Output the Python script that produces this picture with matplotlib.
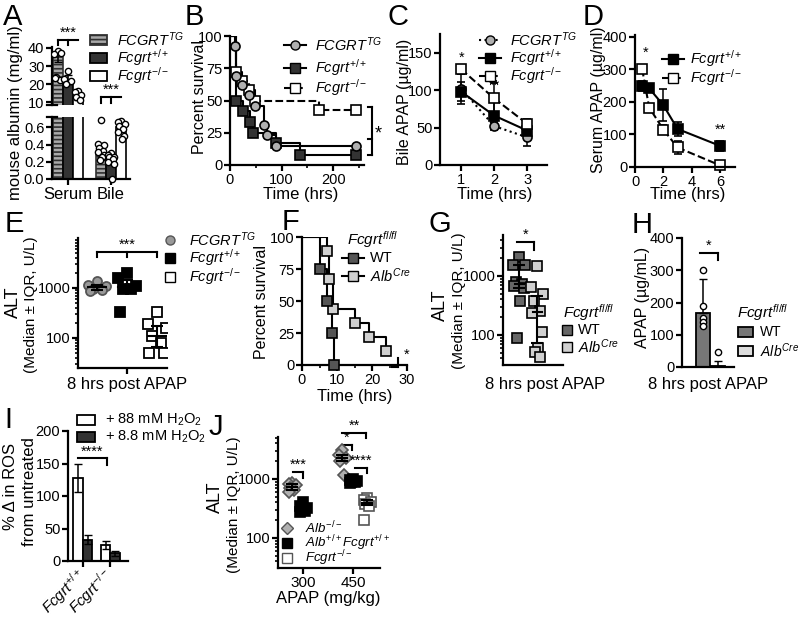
import numpy as np
import matplotlib.pyplot as plt
from matplotlib.lines import Line2D
from matplotlib.patches import Rectangle
from matplotlib.ticker import NullFormatter

plt.rcParams['font.family'] = ['Liberation Sans', 'DejaVu Sans']
plt.rcParams['mathtext.fontset'] = 'custom'
plt.rcParams['mathtext.rm'] = 'Liberation Sans'
plt.rcParams['mathtext.it'] = 'Liberation Sans:italic'
plt.rcParams['mathtext.bf'] = 'Liberation Sans:bold'
plt.rcParams['axes.linewidth'] = 1.6
plt.rcParams['xtick.major.width'] = 1.6
plt.rcParams['ytick.major.width'] = 1.6
plt.rcParams['xtick.minor.width'] = 1.2
plt.rcParams['ytick.minor.width'] = 1.2
plt.rcParams['xtick.major.size'] = 4
plt.rcParams['ytick.major.size'] = 4
plt.rcParams['xtick.minor.size'] = 2.5
plt.rcParams['ytick.minor.size'] = 2.5
plt.rcParams['xtick.labelsize'] = 10.5
plt.rcParams['ytick.labelsize'] = 10.5
plt.rcParams['xtick.major.pad'] = 1.5
plt.rcParams['ytick.major.pad'] = 1.5
plt.rcParams['hatch.linewidth'] = 1.2

# ---------------- data ----------------
geno3 = [r'$FCGRT^{TG}$', r'$Fcgrt^{+/+}$', r'$Fcgrt^{-/-}$']

# A: mouse albumin
alb_groups = ['Serum', 'Bile']
alb_serum = [35, 22.5, 12.5]
alb_serum_sd = [2.5, 2.5, 1.5]
alb_bile = [0.30, 0.22, 0.60]
alb_bile_sd = [0.04, 0.03, 0.03]
alb_serum_pts = [[38.5, 36.5, 37, 24, 22.5, 23.5], [27, 23, 22, 20], [16.5, 15.5, 14, 13, 11]]
alb_bile_pts = [[0.68, 0.41, 0.39, 0.36, 0.33, 0.31, 0.28, 0.25, 0.22],
                [0.30, 0.28, 0.26, 0.25, 0.23, 0.20, 0.18, 0.0],
                [0.67, 0.66, 0.64, 0.62, 0.58, 0.55, 0.50, 0.46]]

# B: survival
km_tg_t = [0, 10, 12, 24, 36, 48, 65, 72, 90, 245]
km_tg_s = [100, 92, 69, 62, 54, 46, 31, 23, 15, 15]
km_wt_t = [0, 12, 25, 38, 45, 90, 135, 245]
km_wt_s = [100, 50, 42, 33, 25, 17, 8, 8]
km_ko_t = [0, 12, 24, 36, 48, 172, 245]
km_ko_s = [100, 72, 65, 58, 50, 43, 43]

# C: bile APAP
c_time = [1, 2, 3]
c_tg = [102, 52, 37]
c_tg_sd = [20, 5, 12]
c_wt = [98, 66, 46]
c_wt_sd = [13, 18, 8]
c_ko = [128, 89, 55]
c_ko_sd = [6, 20, 6]

# D: serum APAP
d_time = [0.5, 1, 2, 3, 6]
d_wt = [250, 242, 190, 117, 65]
d_wt_sd = [15, 8, 50, 22, 15]
d_ko = [302, 183, 115, 60, 5]
d_ko_sd = [12, 8, 15, 20, 4]

# E: ALT
e_tg = [1350, 1150, 1100, 950, 900, 880]
e_wt = [2000, 1600, 1100, 950, 950, 330]
e_ko = [330, 190, 160, 110, 80, 50, 50]

# F: survival
f_wt_t = [0, 5, 7, 8.5, 9.2]
f_wt_s = [100, 75, 50, 25, 0]
f_alb_t = [0, 7, 7.7, 8.8, 15, 19, 24]
f_alb_s = [100, 89, 67, 44, 33, 22, 11]

# G: ALT
g_wt = [2100, 1550, 1550, 800, 720, 680, 620, 370, 90]
g_alb = [1480, 660, 490, 380, 260, 240, 113, 61, 52, 43]

# H: APAP
h_mean = [168, 3]
h_sd = [105, 15]
h_pts = [[300, 188, 152, 138, 128], [45]]

# I: ROS
i_groups = [r'$Fcgrt^{+/+}$', r'$Fcgrt^{-/-}$']
i_88 = [128, 25]
i_88_sd = [22, 6]
i_8 = [33, 12]
i_8_sd = [7, 4]

# J: ALT by dose
j_doses = ['300', '450']
j_alb_ko = [[850, 820, 780, 700, 650, 600], [3100, 2600, 2300, 2000, 1150]]
j_wt = [[410, 350, 320, 300, 290, 280], [1000, 950, 920, 900, 880, 870]]
j_fc_ko = [[], [480, 440, 410, 380, 350, 200]]

# ---------------- helpers ----------------
W, H = 800, 620
fig = plt.figure(figsize=(8, 6.2), dpi=100)
LEG_FS = 10.5


def px_axes(x0, y0, x1, y1):
    ax = fig.add_axes([x0 / W, 1 - y1 / H, (x1 - x0) / W, (y1 - y0) / H])
    ax.spines['top'].set_visible(False)
    ax.spines['right'].set_visible(False)
    ax.patch.set_alpha(0)
    return ax


def ftext(x, y, s, **kw):
    kw.setdefault('ha', 'center')
    kw.setdefault('va', 'center')
    kw.setdefault('fontsize', 12)
    fig.text(x / W, 1 - y / H, s, **kw)


def spread(n, w):
    pattern = np.array([0, -1, 1, -0.5, 0.5, -0.8, 0.8, 0.2, -0.3, 0.4])
    return pattern[np.arange(n) % 10] * w


def bracket(ax, x0, x1, y, drops, y_drop, text):
    ax.plot([x0, x1], [y, y], color='k', lw=1.5, clip_on=False)
    for d in drops:
        ax.plot([d, d], [y, y_drop], color='k', lw=1.5, clip_on=False)
    ax.annotate(text, xy=((x0 + x1) / 2, y), xytext=(0, 0), textcoords='offset points',
                ha='center', va='bottom', fontsize=10.5, annotation_clip=False)


def leg_marker(x, y, text, marker, fc, ec='k', ms=6.5, ls=None, tx=None, fs=LEG_FS):
    if ls:
        fig.add_artist(Line2D([(x - 11) / W, (x + 11) / W], [1 - y / H] * 2,
                              transform=fig.transFigure, color='k', ls=ls, lw=1.5))
    fig.add_artist(Line2D([x / W], [1 - y / H], transform=fig.transFigure, marker=marker,
                          mfc=fc, mec=ec, ms=ms, ls='none'))
    fig.text(tx / W, 1 - y / H, text, ha='left', va='center', fontsize=fs)


def leg_patch(x0, x1, y, text, fc, tx, hatch=None, ec='k', fs=LEG_FS):
    fig.add_artist(Rectangle((x0 / W, 1 - (y + 5) / H), (x1 - x0) / W, 10 / H,
                             transform=fig.transFigure, facecolor=fc, edgecolor=ec,
                             lw=1.3, hatch=hatch))
    fig.text(tx / W, 1 - y / H, text, ha='left', va='center', fontsize=fs)


def median_iqr(ax, x, vals, half=0.3):
    med = np.median(vals)
    q1, q3 = np.percentile(vals, [25, 75])
    ax.plot([x - half, x + half], [med, med], color='k', lw=1.5, zorder=5)
    ax.errorbar(x, med, yerr=[[med - q1], [q3 - med]], color='k', lw=1.5,
                capsize=4, capthick=1.5, zorder=5)


def log_ticks(ax, ticks):
    ax.set_yticks(ticks)
    ax.set_yticklabels([str(t) for t in ticks])
    ax.yaxis.set_minor_formatter(NullFormatter())


# ---------------- A ----------------
axA1 = px_axes(52, 47, 130, 105)
axA2 = px_axes(52, 117, 130, 179)
offA = [-0.233, 0, 0.233]
bwA = 0.233
styleA = [dict(color='#a8a8a8', edgecolor='#303030', hatch='----'),
          dict(color='#333333', edgecolor='k'),
          dict(color='white', edgecolor='k')]
for i in range(3):
    for ax in (axA1, axA2):
        ax.bar(offA[i], alb_serum[i], bwA, lw=1.2, zorder=2, **styleA[i])
    axA2.bar(1 + offA[i], alb_bile[i], bwA, lw=1.2, zorder=2, **styleA[i])
    axA1.errorbar(offA[i], alb_serum[i], yerr=alb_serum_sd[i], color='k', capsize=3, lw=1.2, zorder=3)
    axA2.errorbar(1 + offA[i], alb_bile[i], yerr=alb_bile_sd[i], color='k', capsize=3, lw=1.2, zorder=3)
    axA1.plot(offA[i] + spread(len(alb_serum_pts[i]), 0.08), alb_serum_pts[i], 'o', ms=4.5,
              mfc='white', mec='k', mew=1, zorder=4)
    axA2.plot(1 + offA[i] + spread(len(alb_bile_pts[i]), 0.08), alb_bile_pts[i], 'o', ms=4.5,
              mfc='white', mec='k', mew=1, zorder=4, clip_on=False)
for ax in (axA1, axA2):
    ax.set_xlim(-0.37, 1.44)
axA1.set_ylim(8.5, 40.5)
axA1.set_yticks([10, 20, 30, 40])
axA1.spines['bottom'].set_visible(False)
axA1.set_xticks([])
axA1.plot([-0.06, 0.06], [0, 0], transform=axA1.transAxes, color='k', lw=1.6, clip_on=False)
axA2.set_ylim(0, 0.72)
axA2.set_yticks([0, 0.2, 0.4, 0.6])
axA2.set_yticklabels(['0.0', '0.2', '0.4', '0.6'])
axA2.set_xticks([0, 1])
axA2.set_xticklabels(alb_groups, fontsize=12)
axA2.plot([-0.06, 0.06], [1, 1], transform=axA2.transAxes, color='k', lw=1.6, clip_on=False)
bracket(axA1, -0.233, 0.233, 44.4, [-0.233, 0], 41.5, '***')
bracket(axA1, 0.767, 1.233, 12.9, [0.767, 1.0], 9.8, '***')
ftext(16, 113, 'mouse albumin (mg/ml)', rotation=90)
for i, y in enumerate([40, 58, 76]):
    leg_patch(90, 107, y, geno3[i], styleA[i]['color'], 117, hatch=styleA[i].get('hatch'),
              ec=styleA[i]['edgecolor'])

# ---------------- B ----------------
axB = px_axes(230, 36, 364, 165)
km_styles = [(km_ko_t, km_ko_s, 's', 'white', '--'),
             (km_wt_t, km_wt_s, 's', '#333333', '-'),
             (km_tg_t, km_tg_s, 'o', '#b0b0b0', '-')]
for t, s, m, fc, ls in km_styles:
    axB.step(t, s, where='post', color='k', lw=1.5, ls=ls, zorder=2)
    axB.plot(t[1:], s[1:], m, ms=6.5, mfc=fc, mec='k', mew=1.2, ls='none', zorder=3, clip_on=False)
axB.set_xlim(0, 260)
axB.set_ylim(0, 100)
axB.set_xticks([0, 100, 200])
axB.set_xticks([50, 150, 250], minor=True)
axB.set_yticks([0, 25, 50, 75, 100])
axB.plot([276, 276], [45, 8], color='k', lw=1.5, clip_on=False)
for yy in [45, 20, 8]:
    axB.plot([267, 276], [yy, yy], color='k', lw=1.5, clip_on=False)
axB.text(288, 24, '*', ha='center', va='center', fontsize=13, clip_on=False)
ftext(200, 97, 'Percent survival', rotation=90, fontsize=11.5)
ftext(301, 194, 'Time (hrs)')
leg_marker(295, 45, geno3[0], 'o', '#b0b0b0', ls='-', tx=315)
leg_marker(295, 68, geno3[1], 's', '#333333', ls='-', tx=315)
leg_marker(295, 88, geno3[2], 's', 'white', ls='--', tx=315)

# ---------------- C ----------------
axC = px_axes(440, 34, 547, 165)
c_series = [(c_tg, c_tg_sd, 'o', '#b0b0b0', ':'),
            (c_wt, c_wt_sd, 's', 'k', '-'),
            (c_ko, c_ko_sd, 's', 'white', '--')]
for vals, sd, m, fc, ls in c_series:
    axC.errorbar(c_time, vals, yerr=sd, color='k', lw=1.5, ls=ls, marker=m, ms=6.5, mfc=fc,
                 mec='k', mew=1.2, capsize=3, elinewidth=1.1)
axC.set_xlim(0.36, 3.6)
axC.set_ylim(0, 175)
axC.set_xticks(c_time)
axC.set_yticks([0, 50, 100, 150])
axC.text(1, 143, '*', ha='center', va='center', fontsize=10.5)
axC.text(2, 106, '**', ha='center', va='center', fontsize=10.5)
ftext(405, 102, 'Bile APAP (µg/ml)', rotation=90, fontsize=11.5)
ftext(495, 194, 'Time (hrs)')
leg_marker(490, 40, geno3[0], 'o', '#b0b0b0', ls=':', tx=510)
leg_marker(490, 58, geno3[1], 's', 'k', ls='-', tx=510)
leg_marker(490, 76, geno3[2], 's', 'white', ls='--', tx=510)

# ---------------- D ----------------
axD = px_axes(635, 35, 735, 167)
for vals, sd, fc, ls in [(d_wt, d_wt_sd, 'k', '-'), (d_ko, d_ko_sd, 'white', '--')]:
    axD.errorbar(d_time, vals, yerr=sd, color='k', lw=1.5, ls=ls, marker='s', ms=6.5, mfc=fc,
                 mec='k', mew=1.2, capsize=3, elinewidth=1.1, clip_on=False)
axD.set_xlim(0, 7.05)
axD.set_ylim(0, 406)
axD.set_xticks([0, 2, 4, 6])
axD.set_yticks([0, 100, 200, 300, 400])
axD.text(0.75, 350, '*', ha='center', va='center', fontsize=10.5)
axD.text(6.05, 113, '**', ha='center', va='center', fontsize=10.5)
ftext(598, 100, 'Serum APAP (µg/ml)', rotation=90, fontsize=11.5)
ftext(688, 195, 'Time (hrs)')
leg_marker(673, 59, geno3[1], 's', 'k', ls='-', tx=690)
leg_marker(673, 78, geno3[2], 's', 'white', ls='--', tx=690)

# ---------------- E ----------------
axE = px_axes(78, 238, 167, 368)
axE.set_yscale('log')
e_series = [(e_tg, 'o', '#999999', '#555555'), (e_wt, 's', 'k', 'k'), (e_ko, 's', 'white', 'k')]
for i, (vals, m, fc, ec) in enumerate(e_series):
    axE.plot(i + spread(len(vals), 0.3), vals, m, ms=6.5, mfc=fc, mec=ec, mew=1.3, ls='none', zorder=3)
    median_iqr(axE, i, vals)
axE.set_xlim(-0.65, 2.35)
axE.set_ylim(25, 10000)
log_ticks(axE, [100, 1000])
axE.set_xticks([1])
axE.set_xticklabels([''])
bracket(axE, 0, 2, 5250, [0, 1, 2], 4170, '***')
ftext(13, 302, 'ALT', rotation=90, fontsize=13)
ftext(31, 305, '(Median ± IQR, U/L)', rotation=90, fontsize=11)
ftext(127, 385, '8 hrs post APAP')
leg_marker(170, 240, geno3[0], 'o', '#999999', ec='#555555', tx=189)
leg_marker(170, 258, geno3[1], 's', 'k', tx=189)
leg_marker(170, 277, geno3[2], 's', 'white', tx=189)

# ---------------- F ----------------
axF = px_axes(302, 237, 407, 365)
for t, s, fc in [(f_alb_t, f_alb_s, '#d0d0d0'), (f_wt_t, f_wt_s, '#555555')]:
    axF.step(t, s, where='post', color='k', lw=1.5, zorder=2)
    axF.plot(t[1:], s[1:], 's', ms=6.5, mfc=fc, mec='k', mew=1.2, ls='none', zorder=3, clip_on=False)
axF.set_xlim(0, 30)
axF.set_ylim(0, 100)
axF.set_xticks([0, 10, 20, 30])
axF.set_xticks([5, 15, 25], minor=True)
axF.set_yticks([0, 25, 50, 75, 100])
axF.plot([27.4, 27.4], [-1.5, 5.5], color='k', lw=1.5, clip_on=False)
axF.plot([25.8, 27.4], [-1.5, -1.5], color='k', lw=1.5, clip_on=False)
axF.text(29.8, 8, '*', ha='center', va='center', fontsize=10.5, clip_on=False)
ftext(262, 302, 'Percent survival', rotation=90, fontsize=11.5)
ftext(355, 396, 'Time (hrs)')
ftext(347, 240, r'$Fcgrt^{fl/fl}$', ha='left', fontsize=11)
leg_marker(353, 258, 'WT', 's', '#555555', ls='-', tx=370)
leg_marker(353, 276, r'$Alb^{Cre}$', 's', '#d0d0d0', ls='-', tx=370)

# ---------------- G ----------------
axG = px_axes(503, 235, 563, 365)
axG.set_yscale('log')
for i, (vals, fc) in enumerate([(g_wt, '#666666'), (g_alb, '#d0d0d0')]):
    axG.plot(i + spread(len(vals), 0.35), vals, 's', ms=6.5, mfc=fc, mec='k', mew=1.2, ls='none', zorder=3)
    median_iqr(axG, i, vals, half=0.25)
axG.set_xlim(-0.89, 2.44)
axG.set_ylim(31, 4950)
log_ticks(axG, [100, 1000])
axG.set_xticks([])
bracket(axG, -0.1, 0.83, 3770, [0.83], 2760, '*')
ftext(440, 305, 'ALT', rotation=90, fontsize=13)
ftext(459, 301, '(Median ± IQR, U/L)', rotation=90, fontsize=11)
ftext(545, 385, '8 hrs post APAP')
ftext(563, 313, r'$Fcgrt^{fl/fl}$', ha='left', fontsize=11)
leg_marker(567, 330, 'WT', 's', '#666666', tx=578)
leg_marker(567, 347, r'$Alb^{Cre}$', 's', '#d0d0d0', tx=578)

# ---------------- H ----------------
axH = px_axes(682, 238, 734, 367)
h_colors = ['#777777', '#dddddd']
for i in range(2):
    axH.bar(i, h_mean[i], 0.9, color=h_colors[i], edgecolor='k', lw=1.3, zorder=2)
    axH.errorbar(i, h_mean[i], yerr=[[0], [h_sd[i]]], color='k', capsize=3, lw=1.1, zorder=3)
    axH.plot(i + spread(len(h_pts[i]), 0.0), h_pts[i], 'o', ms=4.5, mfc='white', mec='k',
             mew=1, zorder=4, clip_on=False)
axH.set_xlim(-1.35, 2.0)
axH.set_ylim(0, 400)
axH.set_yticks([0, 100, 200, 300, 400])
axH.set_xticks([])
bracket(axH, -0.19, 0.97, 353, [0.97], 332, '*')
ftext(643, 297, 'APAP (µg/mL)', rotation=90, fontsize=11.5)
ftext(708, 385, '8 hrs post APAP')
ftext(737, 313, r'$Fcgrt^{fl/fl}$', ha='left', fontsize=11)
leg_patch(738, 753, 332, 'WT', h_colors[0], 760, fs=10)
leg_patch(738, 753, 351, r'$Alb^{Cre}$', h_colors[1], 760, fs=10)

# ---------------- I ----------------
axI = px_axes(68, 431, 128, 561)
bwI = 0.345
xi = np.arange(len(i_groups))
axI.bar(xi - bwI / 2, i_88, bwI, color='white', edgecolor='k', lw=1.3, zorder=2)
axI.bar(xi + bwI / 2, i_8, bwI, color='#333333', edgecolor='k', lw=1.3, zorder=2)
axI.errorbar(xi - bwI / 2, i_88, yerr=i_88_sd, color='k', ls='none', capsize=3, lw=1.1, zorder=3)
axI.errorbar(xi + bwI / 2, i_8, yerr=i_8_sd, color='k', ls='none', capsize=3, lw=1.1, zorder=3)
axI.set_xlim(-0.545, 1.64)
axI.set_ylim(0, 200)
axI.set_yticks([0, 50, 100, 150, 200])
axI.set_xticks(xi)
axI.set_xticklabels(i_groups, rotation=45, ha='right', va='center', rotation_mode='anchor', fontsize=11)
axI.tick_params(axis='x', pad=4)
bracket(axI, -0.18, 0.87, 158, [0.87], 148, '****')
ftext(11, 486, '% Δ in ROS', rotation=90)
ftext(30, 492, 'from untreated', rotation=90)
leg_patch(77, 95, 420, r'+ 88 mM H$_2$O$_2$', 'white', 105)
leg_patch(77, 95, 437, r'+ 8.8 mM H$_2$O$_2$', '#333333', 105)

# ---------------- J ----------------
axJ = px_axes(278, 437, 380, 568)
axJ.set_yscale('log')
j_series = [(j_alb_ko, -0.22, 'D', '#b0b0b0', '#555555', 6),
            (j_wt, 0.0, 's', 'k', 'k', 6.5),
            (j_fc_ko, 0.28, 's', 'white', '#555555', 6.5)]
for data, off, m, fc, ec, ms in j_series:
    for d, vals in enumerate(data):
        if len(vals) == 0:
            continue
        axJ.plot(d + off + spread(len(vals), 0.07), vals, m, ms=ms, mfc=fc, mec=ec, mew=1.2,
                 ls='none', zorder=3)
        median_iqr(axJ, d + off, vals, half=0.1)
axJ.set_xlim(-0.5, 1.54)
axJ.set_ylim(31, 5150)
log_ticks(axJ, [100, 1000])
axJ.set_xticks([0, 1])
axJ.set_xticklabels(j_doses, fontsize=11)
bracket(axJ, -0.2, 0.0, 1315, [0.0], 1040, '***')
bracket(axJ, 0.78, 1.26, 6030, [1.26], 4960, '**')
bracket(axJ, 0.78, 0.98, 3770, [0.98], 3100, '*')
bracket(axJ, 1.04, 1.28, 1535, [1.28], 1265, '****')
ftext(215, 497, 'ALT', rotation=90, fontsize=13)
ftext(234, 505, '(Median ± IQR, U/L)', rotation=90, fontsize=11)
ftext(328, 599, 'APAP (mg/kg)')
leg_marker(287, 528, r'$Alb^{-/-}$', 'D', '#b0b0b0', ec='#555555', ms=6, tx=305, fs=9.5)
leg_marker(287, 543, r'$Alb^{+/+}Fcgrt^{+/+}$', 's', 'k', tx=305, fs=9.5)
leg_marker(287, 558, r'$Fcgrt^{-/-}$', 's', 'white', ec='#555555', tx=305, fs=9.5)

# ---------------- panel letters ----------------
for letter, x, y in [('A', 13, 17), ('B', 194, 17), ('C', 398, 17), ('D', 593, 17),
                     ('E', 14, 224), ('F', 290, 222), ('G', 440, 224), ('H', 642, 225),
                     ('I', 8, 420), ('J', 216, 427)]:
    ftext(x, y, letter, fontsize=21)

fig.savefig('out.png', dpi=100)
